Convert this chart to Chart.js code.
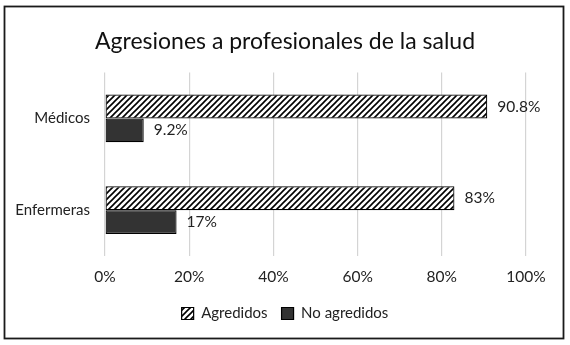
<!DOCTYPE html>
<html><head><meta charset="utf-8">
<script src="https://cdn.jsdelivr.net/npm/chart.js@4/dist/chart.umd.min.js"></script>
<style>html,body{margin:0;padding:0;background:#fff;}#wrap{width:570px;height:345px;position:relative;}</style>
</head><body><div id="wrap"><canvas id="c" width="570" height="345"></canvas></div>
<script>
const categories = ["Médicos", "Enfermeras"];
const seriesNames = ["Agredidos", "No agredidos"];
const agredidos = [90.8, 83];
const noAgredidos = [9.2, 17];
const valueLabels = [["90.8%", "83%"], ["9.2%", "17%"]];
const xTicks = [0, 20, 40, 60, 80, 100];

const FONT = "Lato, 'Open Sans', sans-serif";

function hatch() {
  const c = document.createElement('canvas');
  c.width = 6; c.height = 6;
  const g = c.getContext('2d');
  g.fillStyle = '#fff'; g.fillRect(0,0,6,6);
  g.strokeStyle = '#000'; g.lineWidth = 1.6;
  g.beginPath();
  g.moveTo(-1,7); g.lineTo(7,-1);
  g.moveTo(-4,4); g.lineTo(4,-4);
  g.moveTo(2,10); g.lineTo(10,2);
  g.stroke();
  return g.createPattern(c, 'repeat');
}
const hatchPat = hatch();

const valuePlugin = {
  id: 'vals',
  afterDatasetsDraw(chart) {
    const ctx = chart.ctx;
    ctx.save();
    ctx.font = "15.5px " + FONT;
    ctx.fillStyle = '#222';
    ctx.textBaseline = 'middle';
    ctx.textAlign = 'left';
    chart.data.datasets.forEach((ds, di) => {
      chart.getDatasetMeta(di).data.forEach((bar, i) => {
        ctx.fillText(valueLabels[di][i], bar.x + 10, bar.y);
      });
    });
    ctx.restore();
  }
};
const borderPlugin = {
  id: 'frame',
  afterDraw(chart) {
    const ctx = chart.ctx;
    ctx.save();
    ctx.strokeStyle = '#1a1a1a'; ctx.lineWidth = 1.8;
    ctx.strokeRect(4.5, 6.5, 559, 332);
    ctx.restore();
  }
};

new Chart(document.getElementById('c'), {
  type: 'bar',
  data: {
    labels: categories,
    datasets: [
      { label: seriesNames[0], data: agredidos, backgroundColor: hatchPat, borderColor: '#000', borderWidth: 1.2, borderSkipped: false },
      { label: seriesNames[1], data: noAgredidos, backgroundColor: '#333', borderColor: '#000', borderWidth: 1.2, borderSkipped: false }
    ]
  },
  options: {
    indexAxis: 'y',
    responsive: false,
    animation: false,
    devicePixelRatio: 1,
    layout: { padding: { left: 0, right: 0, top: 0, bottom: 14 } },
    datasets: { bar: { barPercentage: 1.0, categoryPercentage: 0.52 } },
    scales: {
      x: {
        min: 0, max: 100,
        afterBuildTicks(s) { s.ticks = xTicks.map(v => ({ value: v })); },
        grid: { color: '#d4d4d4', lineWidth: 1.2, drawTicks: false },
        border: { display: false },
        ticks: { padding: 12, color: '#222', font: { family: FONT, size: 15.5 }, callback: v => v + '%' },
        afterFit(s) { s.height = 36; }
      },
      y: {
        grid: { display: false, drawTicks: false },
        border: { display: false },
        ticks: { padding: 15, color: '#222', font: { family: FONT, size: 15 } },
        afterFit(s) { s.width = 105; }
      },
      yRight: {
        type: 'category',
        position: 'right',
        grid: { display: false, drawTicks: false },
        border: { display: false },
        ticks: { display: false },
        afterFit(s) { s.width = 44; }
      }
    },
    plugins: {
      title: { display: true, text: 'Agresiones a profesionales de la salud', color: '#111', font: { family: FONT, size: 23, weight: 'normal' }, padding: { top: 28, bottom: 17 } },
      legend: {
        position: 'bottom',
        labels: { color: '#222', font: { family: FONT, size: 15 }, boxWidth: 12, boxHeight: 12, padding: 14,
          generateLabels(chart) {
            return chart.data.datasets.map((d, i) => ({ text: d.label, fillStyle: d.backgroundColor, strokeStyle: '#000', lineWidth: 1.2, datasetIndex: i, fontColor: '#222' }));
          }
        }
      },
      tooltip: { enabled: false }
    }
  },
  plugins: [valuePlugin, borderPlugin]
});
</script></body></html>
